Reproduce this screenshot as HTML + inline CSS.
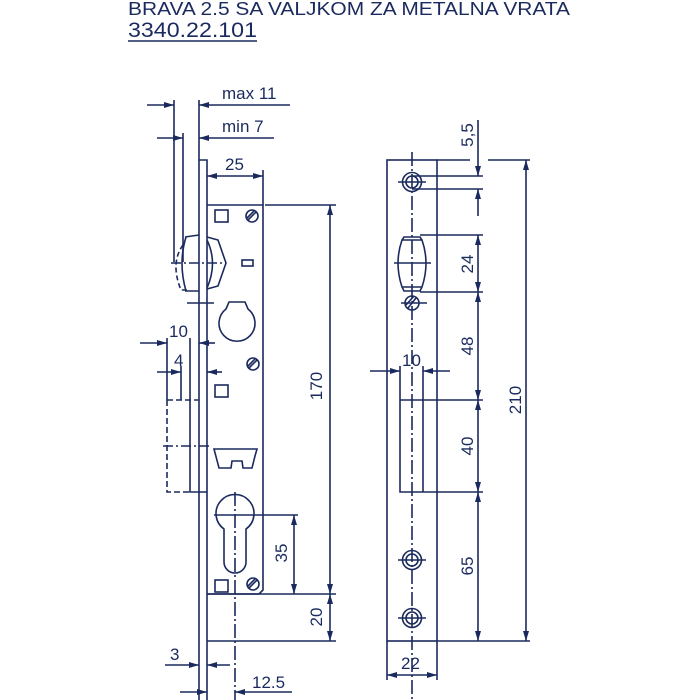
<!DOCTYPE html>
<html><head><meta charset="utf-8"><style>
html,body{margin:0;padding:0;background:#fff;width:700px;height:700px;overflow:hidden}
svg{display:block}
text{font-family:"Liberation Sans",sans-serif;fill:#1b2a5e}
</style></head><body>
<svg width="700" height="700" viewBox="0 0 700 700" xmlns="http://www.w3.org/2000/svg">
<defs>
<marker id="a" viewBox="0 0 10 6" refX="10" refY="3" markerWidth="11" markerHeight="6" markerUnits="userSpaceOnUse" orient="auto-start-reverse"><path d="M0,0 L10,3 L0,6 Z" fill="#1b2a5e"/></marker>
</defs>
<text x="128" y="15" font-size="18" textLength="442" lengthAdjust="spacingAndGlyphs">BRAVA 2.5 SA VALJKOM ZA METALNA VRATA</text>
<text x="128" y="37" font-size="21" textLength="129" lengthAdjust="spacingAndGlyphs">3340.22.101</text>
<line x1="128" y1="41" x2="257" y2="41" stroke="#1b2a5e" stroke-width="1.5"/>

<g stroke="#1b2a5e" stroke-width="1.6" fill="none">
<line x1="147" y1="105" x2="174" y2="105" marker-end="url(#a)"/>
<line x1="290" y1="105" x2="199" y2="105" marker-end="url(#a)"/>
<line x1="157" y1="138" x2="183" y2="138" marker-end="url(#a)"/>
<line x1="274" y1="138" x2="199" y2="138" marker-end="url(#a)"/>
<line x1="174" y1="100" x2="174" y2="262"/>
<line x1="183" y1="133" x2="183" y2="262"/>
<line x1="199" y1="100" x2="199" y2="700"/>
<polyline points="199,160 207,160 207,700"/>
<polyline points="207,205 263,205 263,590 259,594 207,594"/>
<line x1="263" y1="170" x2="263" y2="205"/>
<line x1="207" y1="176" x2="263" y2="176" marker-start="url(#a)" marker-end="url(#a)"/>
<line x1="265" y1="205" x2="336" y2="205"/>
<line x1="330" y1="205" x2="330" y2="594" marker-start="url(#a)" marker-end="url(#a)"/>
<line x1="207" y1="594" x2="336" y2="594"/>
<line x1="207" y1="641" x2="336" y2="641"/>
<line x1="330" y1="594" x2="330" y2="641" marker-start="url(#a)" marker-end="url(#a)"/>
<rect x="215" y="210" width="13" height="12"/>
<circle cx="252" cy="216" r="6"/><line x1="248" y1="220" x2="256" y2="212"/><line x1="247" y1="218" x2="254" y2="211"/>
<rect x="242" y="260" width="11" height="6"/>
<path d="M185,237 L199,235 M185,291 L199,291 M186,237 Q178,263 186,291"/>
<path d="M207,237 L218,240 L226,263 L218,286 L207,289"/>
<path d="M207,240 Q218,263 207,288"/>
<path d="M183,245 Q170,263 181,290 L187,290" stroke-dasharray="5,3"/>
<line x1="171" y1="263" x2="226" y2="263" stroke-dasharray="10,3,2,3"/>
<line x1="187" y1="303" x2="214" y2="303"/>
<path d="M226,309 L229,302 L245,302 L248,309 A18,18 0 1 1 226,309 Z"/>
<circle cx="253" cy="364" r="6"/><line x1="249" y1="368" x2="257" y2="360"/><line x1="248" y1="366" x2="255" y2="359"/>
<line x1="140" y1="343" x2="167" y2="343" marker-end="url(#a)"/>
<line x1="215" y1="343" x2="199" y2="343" marker-end="url(#a)"/>
<line x1="157" y1="372" x2="181" y2="372" marker-end="url(#a)"/>
<line x1="222" y1="372" x2="207" y2="372" marker-end="url(#a)"/>
<line x1="167" y1="338" x2="167" y2="400"/>
<line x1="190" y1="338" x2="190" y2="400"/>
<line x1="181" y1="366" x2="181" y2="400"/>
<path d="M167,400 L167,492 L190,492" stroke-dasharray="6,3"/>
<line x1="167" y1="400" x2="199" y2="400" stroke-dasharray="6,3"/>
<polyline points="190,400 190,492 207,492"/>
<line x1="163" y1="446" x2="212" y2="446" stroke-dasharray="10,3,2,3"/>
<rect x="215" y="385" width="13" height="12"/>
<path d="M214,449 L257,449 L255,456 L252,468 L243,468 L242,461 L232,461 L231,468 L219,468 Z"/>
<path d="M224,529 A19,19 0 1 1 246,529 L246,562 A11,11 0 0 1 224,562 Z"/>
<line x1="235" y1="492" x2="235" y2="700" stroke-dasharray="14,3,2,3"/>
<line x1="214" y1="515" x2="298" y2="515"/>
<line x1="294" y1="515" x2="294" y2="594" marker-start="url(#a)" marker-end="url(#a)"/>
<rect x="215" y="580" width="13" height="12"/>
<circle cx="253" cy="584" r="6"/><line x1="249" y1="588" x2="257" y2="580"/><line x1="248" y1="586" x2="255" y2="579"/>
<line x1="165" y1="665" x2="199" y2="665" marker-end="url(#a)"/>
<line x1="230" y1="665" x2="207" y2="665" marker-end="url(#a)"/>
<line x1="180" y1="692" x2="207" y2="692" marker-end="url(#a)"/>
<line x1="292" y1="692" x2="235" y2="692" marker-end="url(#a)"/>

<rect x="387" y="160" width="50" height="481"/>
<line x1="412" y1="152" x2="412" y2="700" stroke-dasharray="14,3,2,3"/>
<circle cx="412" cy="182" r="9.5"/><circle cx="412" cy="182" r="6"/>
<line x1="398" y1="182" x2="426" y2="182"/>
<path d="M404,237 L420,237 L422,240 Q430,263 422,287 L420,291 L404,291 L402,287 Q394,263 402,240 Z"/>
<line x1="402" y1="240" x2="422" y2="240"/><line x1="402" y1="287" x2="422" y2="287"/>
<line x1="394" y1="263" x2="431" y2="263"/>
<circle cx="412" cy="303" r="7"/><line x1="408" y1="308" x2="416" y2="298"/><line x1="406" y1="305" x2="414" y2="296"/>
<line x1="401" y1="303" x2="427" y2="303"/>
<line x1="370" y1="371" x2="400" y2="371" marker-end="url(#a)"/>
<line x1="450" y1="371" x2="423" y2="371" marker-end="url(#a)"/>
<polyline points="400,366 400,492 437,492"/>
<line x1="423" y1="366" x2="423" y2="492"/>
<line x1="400" y1="400" x2="483" y2="400"/>
<line x1="437" y1="492" x2="483" y2="492"/>
<circle cx="412" cy="560" r="9.5"/><circle cx="412" cy="560" r="6"/><line x1="398" y1="560" x2="426" y2="560"/>
<circle cx="412" cy="618" r="9.5"/><circle cx="412" cy="618" r="6"/><line x1="398" y1="618" x2="426" y2="618"/>
<line x1="412" y1="176" x2="483" y2="176"/>
<line x1="412" y1="189" x2="483" y2="189"/>
<line x1="478" y1="120" x2="478" y2="176" marker-end="url(#a)"/>
<line x1="478" y1="216" x2="478" y2="189" marker-end="url(#a)"/>
<line x1="420" y1="235" x2="483" y2="235"/>
<line x1="420" y1="292" x2="483" y2="292"/>
<line x1="478" y1="235" x2="478" y2="292" marker-start="url(#a)" marker-end="url(#a)"/>
<line x1="478" y1="292" x2="478" y2="400" marker-start="url(#a)" marker-end="url(#a)"/>
<line x1="478" y1="400" x2="478" y2="492" marker-start="url(#a)" marker-end="url(#a)"/>
<line x1="478" y1="492" x2="478" y2="641" marker-start="url(#a)" marker-end="url(#a)"/>
<line x1="437" y1="160" x2="470" y2="160"/>
<line x1="488" y1="160" x2="530" y2="160"/>
<line x1="437" y1="641" x2="530" y2="641"/>
<line x1="526" y1="160" x2="526" y2="641" marker-start="url(#a)" marker-end="url(#a)"/>
<line x1="387" y1="641" x2="387" y2="680"/>
<line x1="437" y1="641" x2="437" y2="680"/>
<line x1="387" y1="675" x2="437" y2="675" marker-start="url(#a)" marker-end="url(#a)"/>
</g>

<g font-size="17">
<text x="222" y="99">max  11</text>
<text x="222" y="132">min  7</text>
<text x="225" y="170">25</text>
<text x="322" y="386" transform="rotate(-90 322 386)" text-anchor="middle">170</text>
<text x="322" y="617" transform="rotate(-90 322 617)" text-anchor="middle">20</text>
<text x="287" y="553" transform="rotate(-90 287 553)" text-anchor="middle">35</text>
<text x="169" y="337">10</text>
<text x="174" y="366">4</text>
<text x="170" y="660">3</text>
<text x="252" y="688">12.5</text>
<text x="402" y="366">10</text>
<text x="401" y="669">22</text>
<text x="473" y="135" transform="rotate(-90 473 135)" text-anchor="middle">5,5</text>
<text x="473" y="264" transform="rotate(-90 473 264)" text-anchor="middle">24</text>
<text x="473" y="346" transform="rotate(-90 473 346)" text-anchor="middle">48</text>
<text x="473" y="446" transform="rotate(-90 473 446)" text-anchor="middle">40</text>
<text x="473" y="566" transform="rotate(-90 473 566)" text-anchor="middle">65</text>
<text x="521" y="400" transform="rotate(-90 521 400)" text-anchor="middle">210</text>
</g>
</svg>
</body></html>
